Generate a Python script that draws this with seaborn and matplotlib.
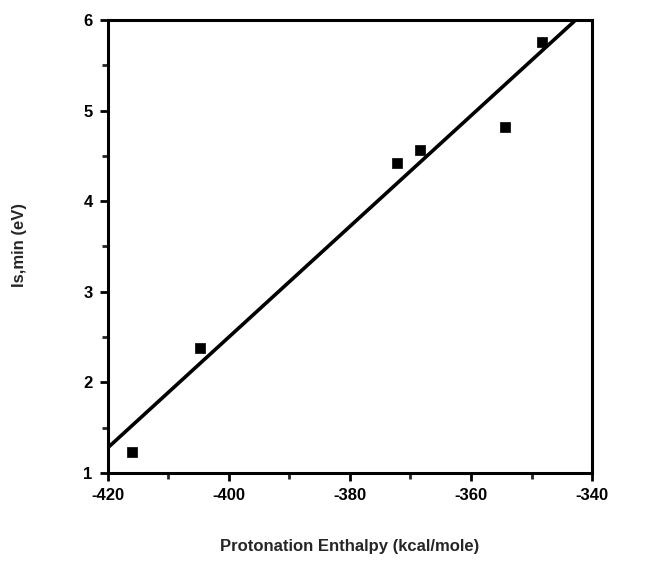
import matplotlib
matplotlib.use("Agg")
import matplotlib.pyplot as plt
import seaborn as sns
import pandas as pd
from matplotlib.ticker import MultipleLocator

# Data
enthalpy = [-416.0, -404.8, -372.2, -368.4, -354.3, -348.2]
is_min = [1.23, 2.38, 4.42, 4.57, 4.82, 5.76]
fit_x = [-420.0, -342.7]
fit_y = [1.28, 6.0]
x_ticks = [-420, -400, -380, -360, -340]
y_ticks = [1, 2, 3, 4, 5, 6]

sns.set_style("ticks")
plt.rcParams['font.family'] = ['Liberation Sans', 'DejaVu Sans']
plt.rcParams['axes.unicode_minus'] = False

fig = plt.figure(figsize=(6.52, 5.68), dpi=100)
ax = fig.add_axes([0.1656, 0.1673, 0.908 - 0.1656, 0.9648 - 0.1673])

pts = pd.DataFrame({"x": enthalpy, "y": is_min})
line = pd.DataFrame({"x": fit_x, "y": fit_y})

sns.lineplot(data=line, x="x", y="y", ax=ax, color="black", linewidth=2.6, zorder=2)
sns.scatterplot(data=pts, x="x", y="y", ax=ax, marker="s", s=48, color="black",
                edgecolor="black", linewidth=0.5, zorder=3)

ax.set_xlim(-420, -340)
ax.set_ylim(1, 6)
ax.set_xticks(x_ticks)
ax.set_yticks(y_ticks)
ax.set_xticklabels([str(v) for v in x_ticks])
ax.set_yticklabels([str(v) for v in y_ticks])
ax.xaxis.set_minor_locator(MultipleLocator(10))
ax.yaxis.set_minor_locator(MultipleLocator(0.5))

for s in ax.spines.values():
    s.set_linewidth(2.2)
    s.set_color("black")

ax.tick_params(axis="both", which="major", direction="out", length=6, width=2,
               labelsize=12, pad=5, colors="black")
ax.tick_params(axis="both", which="minor", direction="out", length=4, width=2)
for lbl in ax.get_xticklabels() + ax.get_yticklabels():
    lbl.set_fontweight("bold")

ax.set_xlabel("Protonation Enthalpy (kcal/mole)", fontsize=12, fontweight="bold")
ax.set_ylabel("Is,min (eV)", fontsize=12, fontweight="bold")
ax.xaxis.set_label_coords(0.5, -0.163)
ax.yaxis.set_label_coords(-0.182, 0.503)
ax.xaxis.label.set_va("center")
ax.yaxis.label.set_va("center")

fig.savefig("out.png", dpi=100)
